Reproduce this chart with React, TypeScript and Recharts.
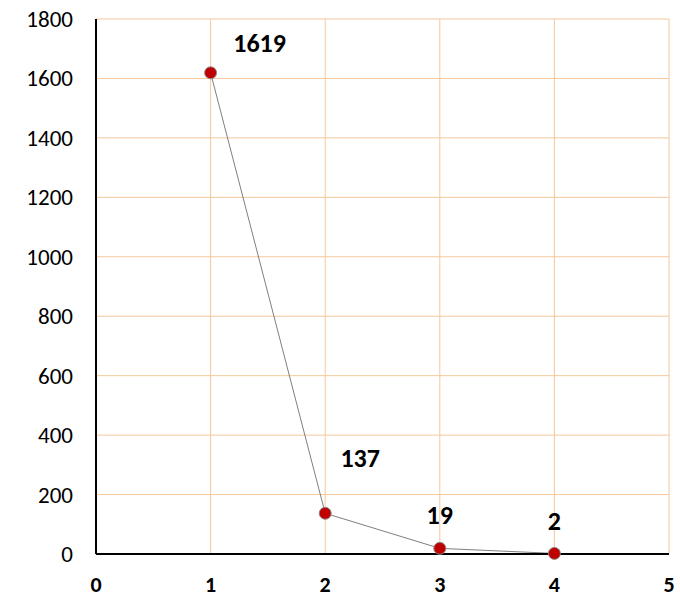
import React from 'react';
import { LineChart, Line, XAxis, YAxis, CartesianGrid, LabelList } from 'recharts';

const xValues = [1, 2, 3, 4];
const yValues = [1619, 137, 19, 2];
const xTicks = [0, 1, 2, 3, 4, 5];
const yTicks = [0, 200, 400, 600, 800, 1000, 1200, 1400, 1600, 1800];

const data = xValues.map((x, i) => ({ x, y: yValues[i] }));

// label placement offsets (styling only)
const labelOffsets = [
  { dx: 49, dy: -30 },
  { dx: 35, dy: -55 },
  { dx: 0, dy: -33 },
  { dx: 0, dy: -32 },
];

const FONT = 'Carlito, Lato, "Open Sans", sans-serif';

const renderLabel = (props: any) => {
  const { x, y, value, index } = props;
  const off = labelOffsets[index] || { dx: 0, dy: -20 };
  return (
    <text
      x={x + off.dx}
      y={y + off.dy}
      textAnchor="middle"
      dominantBaseline="central"
      fontFamily={FONT}
      fontWeight="bold"
      fontSize={26}
      fill="#000"
    >
      {value}
    </text>
  );
};

const XTick = (props: any) => {
  const { x, payload } = props;
  return (
    <text
      x={x}
      y={584}
      textAnchor="middle"
      dominantBaseline="central"
      fontFamily={FONT}
      fontWeight="bold"
      fontSize={22}
      fill="#000"
    >
      {payload.value}
    </text>
  );
};

const YTick = (props: any) => {
  const { y, payload } = props;
  return (
    <text
      x={73}
      y={y}
      textAnchor="end"
      dominantBaseline="central"
      fontFamily={FONT}
      fontSize={23}
      fill="#000"
    >
      {payload.value}
    </text>
  );
};

export default function App() {
  return (
    <div style={{ position: 'absolute', left: 0, top: 0, background: '#fff' }}>
      <LineChart
        width={680}
        height={594}
        data={data}
        margin={{ top: 19, right: 11, bottom: 10, left: 36 }}
      >
        <CartesianGrid stroke="#F5C89A" strokeWidth={1} />
        <XAxis
          dataKey="x"
          type="number"
          domain={[0, 5]}
          ticks={xTicks}
          interval={0}
          height={30}
          axisLine={{ stroke: '#000', strokeWidth: 2 }}
          tickLine={false}
          tick={<XTick />}
        />
        <YAxis
          type="number"
          domain={[0, 1800]}
          ticks={yTicks}
          interval={0}
          width={60}
          axisLine={{ stroke: '#000', strokeWidth: 2 }}
          tickLine={false}
          tick={<YTick />}
        />
        <Line
          dataKey="y"
          stroke="#7F7F7F"
          strokeWidth={1}
          isAnimationActive={false}
          dot={{ r: 6, fill: '#C00000', stroke: '#8C8C8C', strokeWidth: 1 }}
          activeDot={false}
        >
          <LabelList dataKey="y" content={renderLabel} />
        </Line>
      </LineChart>
    </div>
  );
}
